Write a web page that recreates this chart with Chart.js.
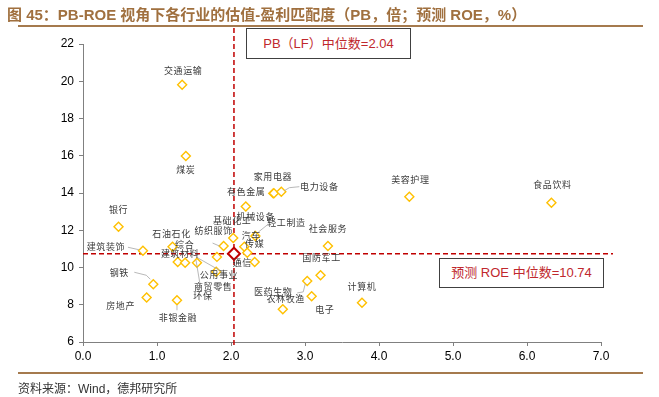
<!DOCTYPE html>
<html><head><meta charset="utf-8">
<script src="https://cdn.jsdelivr.net/npm/chart.js@4.4.0/dist/chart.umd.min.js"></script>
<style>
html,body{margin:0;padding:0;background:#fff;}
#wrap{position:relative;width:659px;height:397px;overflow:hidden;font-family:"Liberation Sans",Arial,"Noto Sans CJK SC",sans-serif;}
#title{position:absolute;left:7px;top:3px;font-size:15px;font-weight:bold;color:#A0703F;white-space:nowrap;font-family:"Liberation Sans",Arial,"Noto Sans CJK SC",sans-serif;}
.rule{position:absolute;left:18px;width:625px;height:2px;background:#A57A4E;}
#src{position:absolute;left:18px;top:379px;font-size:12px;color:#333;white-space:nowrap;}
.box{position:absolute;border:1px solid #404040;background:#fff;color:#C0282D;font-size:13px;text-align:center;box-sizing:border-box;white-space:nowrap;}
canvas{position:absolute;left:0;top:0;}
</style></head>
<body>
<div id="wrap">
<canvas id="c" width="659" height="397"></canvas>
<div id="title">图 45：PB-ROE 视角下各行业的估值-盈利匹配度（PB，倍；预测 ROE，%）</div>
<div class="rule" style="top:25px"></div>
<div class="box" style="left:246px;top:28px;width:165px;height:31px;line-height:29px;">PB（LF）中位数=2.04</div>
<div class="box" style="left:439px;top:258px;width:165px;height:30px;line-height:28px;">预测 ROE 中位数=10.74</div>
<div class="rule" style="top:372px"></div>
<div id="src">资料来源：Wind，德邦研究所</div>
</div>
<script>
// ---- data ----
const industries = ['交通运输','煤炭','银行','建筑装饰','钢铁','房地产','非银金融','石油石化','综合','建筑材料','环保','公用事业','商贸零售','纺织服饰','基础化工','汽车','通信','轻工制造','传媒','机械设备','有色金属','家用电器','电力设备','社会服务','国防军工','医药生物','农林牧渔','电子','计算机','美容护理','食品饮料'];
const pbValues  = [1.34,1.39,0.48,0.81,0.95,0.86,1.27,1.21,1.28,1.38,1.54,1.81,1.80,1.90,2.03,2.18,2.22,2.33,2.32,2.20,2.57,2.58,2.68,3.31,3.21,3.03,3.09,2.70,3.77,4.41,6.33];
const roeValues = [19.81,15.99,12.19,10.90,9.10,8.39,8.24,11.11,10.30,10.25,10.25,10.57,9.77,11.15,11.59,11.11,10.79,11.69,10.30,13.27,13.98,13.99,14.07,11.16,9.59,9.28,8.46,7.76,8.11,13.80,13.48];
const medianPB = 2.04;
const medianROE = 10.74;
const xTickLabels = ['0.0','1.0','2.0','3.0','4.0','5.0','6.0','7.0'];
const yTickLabels = ['6','8','10','12','14','16','18','20','22'];

// ---- label layout (pixel offsets from each point) ----
const labelOffsets = [[1,-14],[0,14],[0,-17],[-37,-4],[-34,-12],[-26,8],[1,17],[-1,-13],[7,-17],[-5,-9],[6,33],[2,18],[-3,15],[-10,-16],[-1,-17],[7,-11],[-5,10],[31,-13],[0,-18],[10,10],[-27,-2],[-1,-17],[38,-5],[0,-17],[1,-18],[-34,11],[-26,2],[42,0],[0,-16],[1,-17],[1,-18]];
const leaders = [
  [3, [[-15,-3.5],[-4,-1]]],
  [4, [[-19,-12],[-7,-9],[-3,-5]]],
  [6, [[0,5],[0,10]]],
  [10,[[-1,-6],[27,10]]],
  [10,[[-1,-3],[3,21],[1,29]]],
  [13,[[-11,-3],[-4,0]]],
  [17,[[3,-4],[13,-12]]],
  [22,[[3,-1],[8,-4],[18,-5]]],
  [25,[[-2,3],[-4,11],[-10,12]]]
];

const medianPlugin = {
  id:'medianLines',
  beforeDatasetsDraw(chart){
    const {ctx, chartArea:a, scales:{x,y}} = chart;
    const px = x.getPixelForValue(medianPB), py = y.getPixelForValue(medianROE);
    ctx.save();
    ctx.strokeStyle = '#C00000'; ctx.lineWidth = 1.5; ctx.setLineDash([5,3]);
    ctx.beginPath(); ctx.moveTo(px, a.top-16); ctx.lineTo(px, a.bottom+4); ctx.stroke();
    ctx.beginPath(); ctx.moveTo(a.left, py); ctx.lineTo(a.right+12, py); ctx.stroke();
    ctx.restore();
  }
};
const labelPlugin = {
  id:'pointLabels',
  afterDatasetsDraw(chart){
    const ctx = chart.ctx;
    const meta = chart.getDatasetMeta(0);
    ctx.save();
    ctx.strokeStyle = '#A6A6A6'; ctx.lineWidth = 0.8;
    leaders.forEach(([i, pts]) => {
      const p = meta.data[i];
      ctx.beginPath();
      pts.forEach(([dx,dy],k) => k ? ctx.lineTo(p.x+dx, p.y+dy) : ctx.moveTo(p.x+dx, p.y+dy));
      ctx.stroke();
    });
    ctx.font = '9px "Noto Sans CJK SC"';
    ctx.fillStyle = '#3a3a3a';
    ctx.textAlign = 'center'; ctx.textBaseline = 'middle';
    if ('letterSpacing' in ctx) ctx.letterSpacing = '0.6px';
    industries.forEach((name,i) => {
      const p = meta.data[i]; const [dx,dy] = labelOffsets[i];
      ctx.fillText(name, p.x+dx, p.y+dy);
    });
    ctx.restore();
  }
};

new Chart(document.getElementById('c'), {
  type:'scatter',
  data:{datasets:[
    {data: pbValues.map((v,i)=>({x:v, y:roeValues[i]})), pointStyle:'rectRot', radius:4.5, borderWidth:1.4, borderColor:'#FFC000', backgroundColor:'#fff'},
    {data:[{x:medianPB, y:medianROE}], pointStyle:'rectRot', radius:6, borderWidth:2, borderColor:'#C00000', backgroundColor:'#fff'}
  ]},
  options:{
    responsive:false, animation:false,
    layout:{padding:{left:43, top:44, right:58, bottom:25}},
    plugins:{legend:{display:false}, tooltip:{enabled:false}},
    scales:{
      x:{type:'linear', min:0, max:7,
        afterFit(s){ s.height = 30; },
        afterBuildTicks(s){ s.ticks = xTickLabels.map(t=>({value:parseFloat(t)})); },
        ticks:{callback:(v,i)=>xTickLabels[i], color:'#000', font:{family:'"Liberation Sans", Arial', size:12}, padding:3, maxRotation:0},
        grid:{display:true, drawOnChartArea:false, drawTicks:true, tickLength:4, color:'#808080'},
        border:{display:true, color:'#808080', width:1}},
      y:{type:'linear', min:6, max:22,
        afterFit(s){ s.width = 40; },
        afterBuildTicks(s){ s.ticks = yTickLabels.map(t=>({value:parseFloat(t)})); },
        ticks:{callback:(v,i)=>yTickLabels[i], color:'#000', font:{family:'"Liberation Sans", Arial', size:12}, padding:5},
        grid:{display:true, drawOnChartArea:false, drawTicks:true, tickLength:4, color:'#808080'},
        border:{display:true, color:'#808080', width:1}}
    }
  },
  plugins:[medianPlugin, labelPlugin]
});
</script>
</body></html>
